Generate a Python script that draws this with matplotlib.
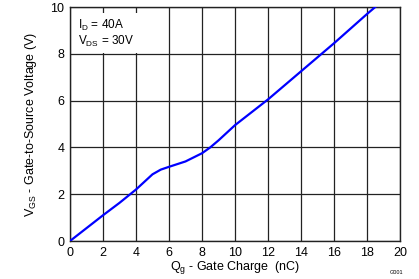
import numpy as np
import matplotlib
matplotlib.use("Agg")
from matplotlib import pyplot as plt

# gate charge curve
QG   = [0, 1, 2, 3, 4, 5, 5.5, 6, 7, 8, 8.5, 9, 10, 12, 14, 16, 18, 18.5]
VGS  = [0, 0.55, 1.1, 1.63, 2.2, 2.85, 3.05, 3.17, 3.4, 3.75, 4.0, 4.3, 4.95, 6.05, 7.25, 8.45, 9.7, 10.0]
XTICKS = list(range(0, 21, 2))
YTICKS = list(range(0, 11, 2))

plt.rcParams['font.family'] = ['Liberation Sans', 'DejaVu Sans']
plt.rcParams['mathtext.fontset'] = 'custom'
plt.rcParams['mathtext.rm'] = 'Liberation Sans'

fig = plt.figure(figsize=(4.19, 2.79), dpi=100)
ax = fig.add_axes([70/419, 1-241/279, 330/419, 234/279])

ax.plot(QG, VGS, color='#0000ff', lw=1.6, zorder=3)

ax.set_xlim(0, 20)
ax.set_ylim(0, 10)
ax.set_xticks(XTICKS)
ax.set_yticks(YTICKS)
ax.tick_params(length=0, labelsize=9, pad=4)
ax.grid(True, color='#222222', lw=0.9)
for s in ax.spines.values():
    s.set_color('#222222')
    s.set_linewidth(1.0)

ax.set_xlabel(r'Q$_{\rm g}$ - Gate Charge  (nC)', fontsize=9, labelpad=-1)
ax.xaxis.set_label_coords(0.5, -0.075)
ax.set_ylabel(r'V$_{\rm GS}$ - Gate-to-Source Voltage (V)', fontsize=9, labelpad=8)

ax.text(0.025, 0.955, 'I$_{\\rm D}$ = 40A\nV$_{\\rm DS}$ = 30V', transform=ax.transAxes,
        fontsize=8.5, va='top', ha='left', zorder=4, linespacing=1.1,
        bbox=dict(facecolor='white', edgecolor='none', pad=3))

fig.text(397/419, 1-273/279, 'G001', fontsize=4, ha='center', va='center')

plt.savefig("out.png", dpi=100)
